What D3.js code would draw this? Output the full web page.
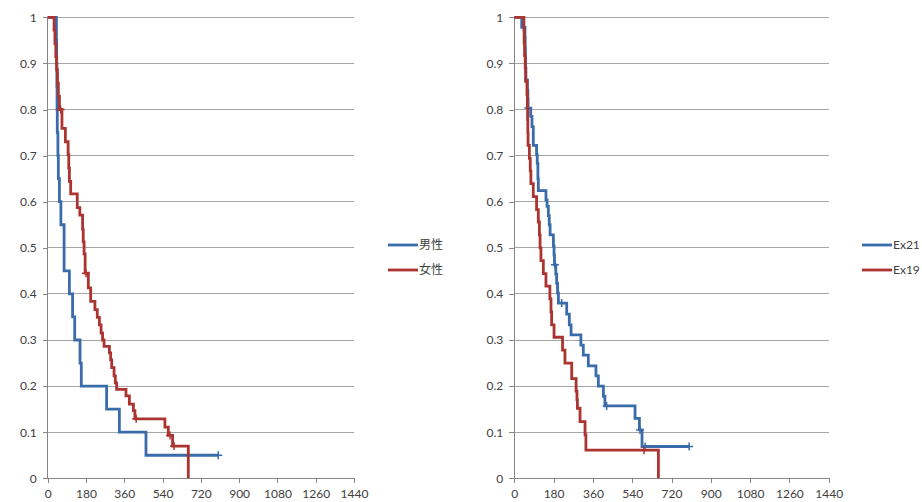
<!DOCTYPE html>
<html>
<head>
<meta charset="utf-8">
<script src="https://cdn.jsdelivr.net/npm/d3@7"></script>
<style>
  body { margin: 0; background: #fff; }
  #chart text { font-family: Lato, "Noto Sans CJK JP", sans-serif; fill: #404040; }
</style>
</head>
<body>
<div id="chart"></div>
<script>
// tick labels shared by both panels
var xTicks = [0, 180, 360, 540, 720, 900, 1080, 1260, 1440];
var yTicks = [0, 0.1, 0.2, 0.3, 0.4, 0.5, 0.6, 0.7, 0.8, 0.9, 1];
var yLabels = ["0", "0.1", "0.2", "0.3", "0.4", "0.5", "0.6", "0.7", "0.8", "0.9", "1"];

// left panel: 男性 / 女性
var maleDays = [0, 41, 42, 43, 44, 45, 48, 50, 55, 62, 77, 102, 117, 127, 152, 158, 277, 337, 462, 802];
var maleSurv = [1, 0.95, 0.9, 0.85, 0.8, 0.75, 0.7, 0.65, 0.6, 0.55, 0.45, 0.4, 0.35, 0.3, 0.25, 0.2, 0.15, 0.1, 0.05, 0.05];
var maleCensor = [[802, 0.05]];

var femaleDays = [0, 30, 34, 38, 42, 46, 50, 55, 67, 83, 96, 99, 102, 108, 139, 151, 164, 167, 171, 176,
  191, 202, 222, 233, 243, 251, 258, 265, 290, 296, 301, 312, 318, 324, 368, 384, 403, 410, 551, 567, 587, 661];
var femaleSurv = [1, 0.972, 0.943, 0.915, 0.886, 0.857, 0.829, 0.8, 0.759, 0.73, 0.702, 0.673, 0.644, 0.617,
  0.587, 0.571, 0.54, 0.513, 0.487, 0.445, 0.413, 0.384, 0.366, 0.349, 0.333, 0.315, 0.3, 0.286,
  0.272, 0.257, 0.24, 0.222, 0.207, 0.193, 0.179, 0.161, 0.147, 0.129, 0.111, 0.093, 0.07, 0];
var femaleCensor = [[61, 0.8], [180, 0.445], [416, 0.129], [575, 0.093], [594, 0.07]];

// right panel: Ex21 / Ex19
var ex21Days = [0, 34, 49, 50, 51, 52, 53, 60, 62, 63, 75, 81, 87, 102, 105, 108, 110, 145, 150, 156, 160, 164,
  179, 182, 184, 190, 194, 198, 202, 240, 252, 260, 305, 316, 339, 374, 385, 408, 415, 553, 573, 585, 801];
var ex21Surv = [1, 0.978, 0.956, 0.933, 0.911, 0.889, 0.864, 0.842, 0.822, 0.803, 0.785, 0.763, 0.722, 0.702,
  0.683, 0.65, 0.624, 0.604, 0.59, 0.57, 0.55, 0.528, 0.504, 0.484, 0.463, 0.443, 0.423, 0.402, 0.38,
  0.356, 0.333, 0.311, 0.289, 0.267, 0.244, 0.222, 0.2, 0.178, 0.157, 0.13, 0.105, 0.069, 0.069];
var ex21Censor = [[64, 0.803], [186, 0.463], [217, 0.38], [423, 0.157], [576, 0.105], [599, 0.069], [801, 0.069]];

var ex19Days = [0, 44, 45, 47, 50, 52, 58, 60, 61, 62, 63, 69, 73, 76, 87, 102, 110, 115, 118, 122, 133, 145,
  163, 168, 171, 182, 221, 232, 263, 283, 287, 289, 301, 324, 328, 660];
var ex19Surv = [1, 0.972, 0.944, 0.917, 0.889, 0.861, 0.833, 0.806, 0.778, 0.75, 0.722, 0.694, 0.667, 0.639,
  0.611, 0.583, 0.556, 0.528, 0.5, 0.472, 0.444, 0.417, 0.389, 0.361, 0.333, 0.306, 0.278, 0.25,
  0.216, 0.189, 0.17, 0.152, 0.123, 0.094, 0.061, 0];
var ex19Censor = [[594, 0.061]];

var blue = "#3a6caa";
var red = "#ab3431";

var svg = d3.select("#chart")
  .append("svg")
  .attr("width", 922)
  .attr("height", 502);

function zip(days, surv) {
  return days.map(function (d, i) { return { day: d, s: surv[i] }; });
}

function panel(left, right, series, legendX) {
  var top = 17.3, bottom = 478.3;
  var x = d3.scaleLinear().domain([0, 1440]).range([left, right]);
  var y = d3.scaleLinear().domain([0, 1]).range([bottom, top]);
  var g = svg.append("g");

  // gridlines
  g.append("g").selectAll("line")
    .data(yTicks.slice(1))
    .enter().append("line")
    .attr("x1", left).attr("x2", right)
    .attr("y1", function (d) { return y(d); })
    .attr("y2", function (d) { return y(d); })
    .attr("stroke", "#a6a6a6")
    .attr("stroke-width", 1)
    .attr("shape-rendering", "crispEdges");

  var yAxis = g.append("g")
    .attr("transform", "translate(" + left + ",0)")
    .call(d3.axisLeft(y).tickValues(yTicks).tickSize(5).tickPadding(6)
      .tickFormat(function (d, i) { return yLabels[i]; }));
  var xAxis = g.append("g")
    .attr("transform", "translate(0," + bottom + ")")
    .call(d3.axisBottom(x).tickValues(xTicks).tickSize(5).tickPadding(6)
      .tickFormat(d3.format("d")));
  [yAxis, xAxis].forEach(function (a) {
    a.selectAll("path, line").attr("stroke", "#868686").attr("shape-rendering", "crispEdges");
    a.selectAll("text").style("font-size", "12px");
  });
  yAxis.select(".domain").attr("d", "M0," + top + "V" + bottom);
  xAxis.select(".domain").attr("d", "M" + left + ",0H" + right);

  var line = d3.line()
    .curve(d3.curveStepAfter)
    .x(function (d) { return x(d.day); })
    .y(function (d) { return y(d.s); });

  series.forEach(function (sr, k) {
    g.append("path")
      .datum(zip(sr.days, sr.surv))
      .attr("fill", "none")
      .attr("stroke", sr.color)
      .attr("stroke-width", 2.8)
      .attr("d", line);

    g.append("g").selectAll("path")
      .data(sr.censor)
      .enter().append("path")
      .attr("d", function (d) {
        var cx = x(d[0]), cy = y(d[1]);
        return "M" + (cx - 4) + "," + cy + "H" + (cx + 4) + "M" + cx + "," + (cy - 4) + "V" + (cy + 4);
      })
      .attr("stroke", sr.color)
      .attr("stroke-width", 1.5);

    // legend
    var ly = 245 + k * 25;
    g.append("line")
      .attr("x1", legendX).attr("x2", legendX + 30)
      .attr("y1", ly).attr("y2", ly)
      .attr("stroke", sr.color)
      .attr("stroke-width", 2.8);
    g.append("text")
      .attr("x", legendX + 31)
      .attr("y", ly)
      .attr("dy", "0.35em")
      .style("font-size", "12px")
      .text(sr.name);
  });
}

panel(47.7, 354, [
  { name: "男性", days: maleDays, surv: maleSurv, censor: maleCensor, color: blue },
  { name: "女性", days: femaleDays, surv: femaleSurv, censor: femaleCensor, color: red }
], 388);

panel(514.3, 828.7, [
  { name: "Ex21", days: ex21Days, surv: ex21Surv, censor: ex21Censor, color: blue },
  { name: "Ex19", days: ex19Days, surv: ex19Surv, censor: ex19Censor, color: red }
], 862);
</script>
</body>
</html>
